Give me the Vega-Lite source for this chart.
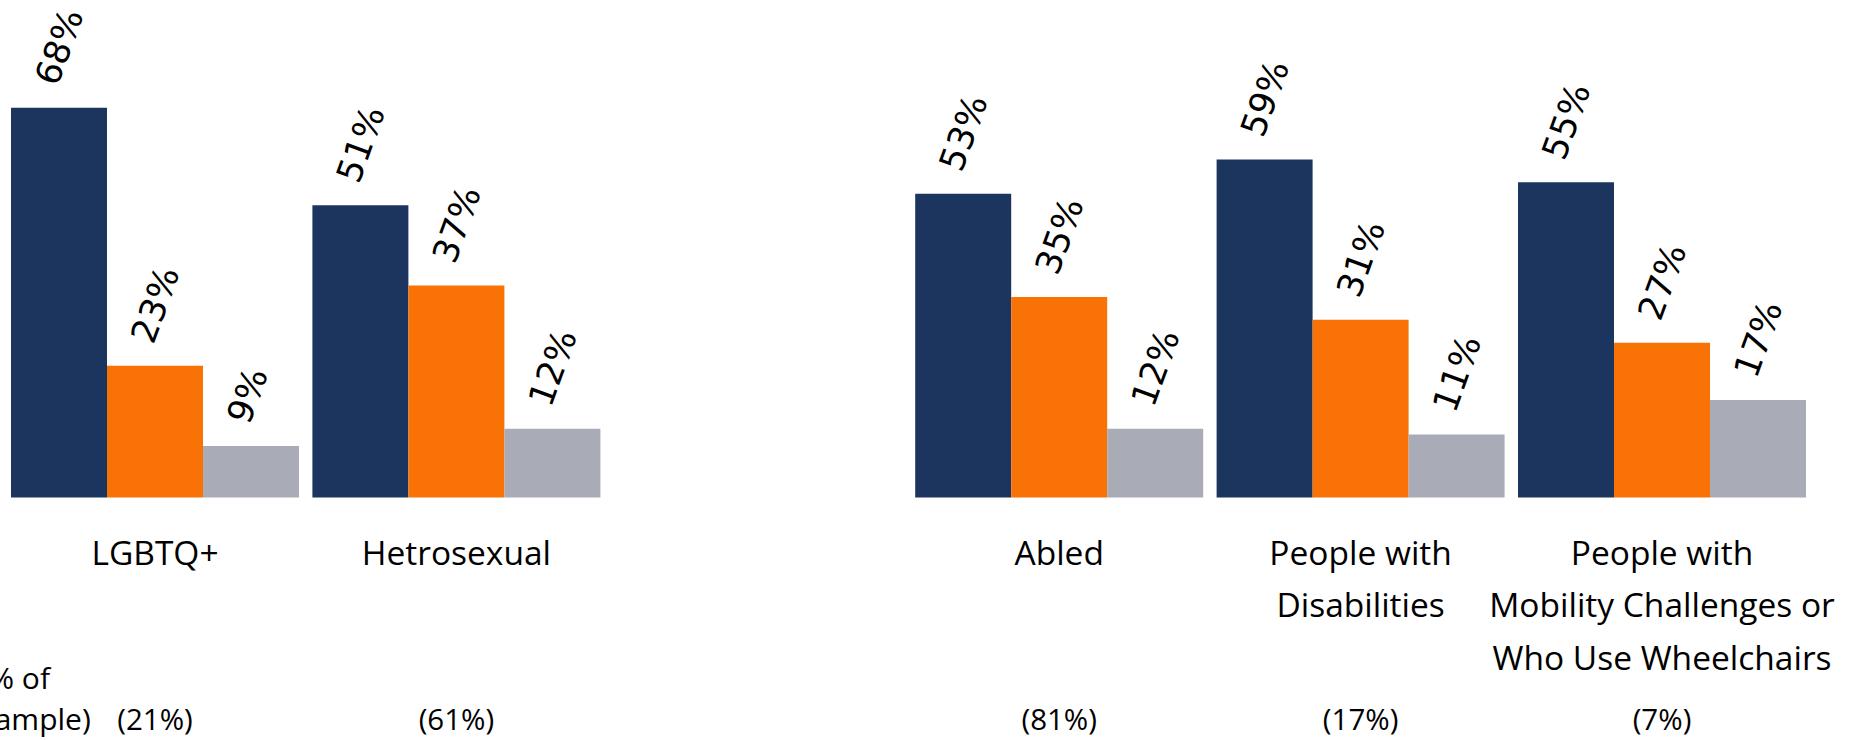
{
  "$schema": "https://vega.github.io/schema/vega-lite/v6.json",
  "width": 1808.4,
  "height": 497.5,
  "autosize": {"type": "none"},
  "padding": {"left": 4.3, "top": 0, "right": 47.3, "bottom": 242.5},
  "background": "white",
  "config": {
    "view": {"stroke": null},
    "axisY": {"disable": true},
    "legend": {"disable": true}
  },
  "datasets": {
    "bars": [
      {"group": "LGBTQ+", "response": "Yes", "share": 0.68},
      {"group": "LGBTQ+", "response": "No", "share": 0.23},
      {"group": "LGBTQ+", "response": "Not sure", "share": 0.09},
      {"group": "Hetrosexual", "response": "Yes", "share": 0.51},
      {"group": "Hetrosexual", "response": "No", "share": 0.37},
      {"group": "Hetrosexual", "response": "Not sure", "share": 0.12},
      {"group": "Abled", "response": "Yes", "share": 0.53},
      {"group": "Abled", "response": "No", "share": 0.35},
      {"group": "Abled", "response": "Not sure", "share": 0.12},
      {"group": "People with|Disabilities", "response": "Yes", "share": 0.59},
      {"group": "People with|Disabilities", "response": "No", "share": 0.31},
      {"group": "People with|Disabilities", "response": "Not sure", "share": 0.11},
      {"group": "People with|Mobility Challenges or|Who Use Wheelchairs", "response": "Yes", "share": 0.55},
      {"group": "People with|Mobility Challenges or|Who Use Wheelchairs", "response": "No", "share": 0.27},
      {"group": "People with|Mobility Challenges or|Who Use Wheelchairs", "response": "Not sure", "share": 0.17}
    ],
    "samples": [
      {"group": "LGBTQ+", "label": "(21%)"},
      {"group": "Hetrosexual", "label": "(61%)"},
      {"group": "Abled", "label": "(81%)"},
      {"group": "People with|Disabilities", "label": "(17%)"},
      {"group": "People with|Mobility Challenges or|Who Use Wheelchairs", "label": "(7%)"}
    ],
    "note": [
      {"group": "LGBTQ+", "label": "(% of|sample)"}
    ]
  },
  "encoding": {
    "x": {
      "field": "group",
      "type": "nominal",
      "sort": null,
      "scale": {
        "domain": ["LGBTQ+", "Hetrosexual", "gap", "Abled", "People with|Disabilities", "People with|Mobility Challenges or|Who Use Wheelchairs"],
        "paddingInner": 0.0445,
        "paddingOuter": 0.02225
      },
      "axis": {
        "title": null,
        "domain": false,
        "ticks": false,
        "tickSize": 0,
        "grid": false,
        "labelAngle": 0,
        "labelAlign": "center",
        "labelBaseline": "top",
        "labelPadding": 40.5,
        "labelFont": "Open Sans",
        "labelFontSize": 33.5,
        "labelColor": "#000000",
        "labelLineHeight": 52.5,
        "labelLimit": 600,
        "labelOverlap": false,
        "labelBound": false,
        "labelExpr": "datum.label == 'gap' ? '' : split(datum.label, '|')"
      }
    }
  },
  "layer": [
    {
      "data": {"name": "bars"},
      "mark": {"type": "bar"},
      "encoding": {
        "xOffset": {"field": "response", "type": "nominal", "scale": {"domain": ["Yes", "No", "Not sure"], "paddingInner": 0, "paddingOuter": 0}},
        "y": {"field": "share", "type": "quantitative", "scale": {"domain": [0, 0.8682], "nice": false, "zero": true}},
        "color": {"field": "response", "type": "nominal", "scale": {"domain": ["Yes", "No", "Not sure"], "range": ["#1C355E", "#F87206", "#A9ABB7"]}}
      }
    },
    {
      "data": {"name": "bars"},
      "mark": {"type": "text", "angle": -70, "align": "left", "baseline": "middle", "dx": 18.5, "dy": -19.5, "font": "DejaVu Sans", "fontSize": 35, "color": "#000000"},
      "encoding": {
        "xOffset": {"field": "response", "type": "nominal", "scale": {"domain": ["Yes", "No", "Not sure"], "paddingInner": 0, "paddingOuter": 0}},
        "y": {"field": "share", "type": "quantitative"},
        "text": {"field": "share", "type": "quantitative", "format": ".0%"}
      }
    },
    {
      "data": {"name": "samples"},
      "mark": {"type": "text", "align": "center", "baseline": "alphabetic", "dy": 232, "font": "Open Sans", "fontSize": 29.5, "color": "#000000"},
      "encoding": {
        "y": {"datum": 0, "type": "quantitative"},
        "text": {"field": "label", "type": "nominal"}
      }
    },
    {
      "data": {"name": "note"},
      "mark": {"type": "text", "align": "left", "baseline": "alphabetic", "dx": -174.6, "dy": 191, "lineBreak": "|", "lineHeight": 41, "font": "Open Sans", "fontSize": 30, "color": "#000000"},
      "encoding": {
        "y": {"datum": 0, "type": "quantitative"},
        "text": {"field": "label", "type": "nominal"}
      }
    }
  ]
}
